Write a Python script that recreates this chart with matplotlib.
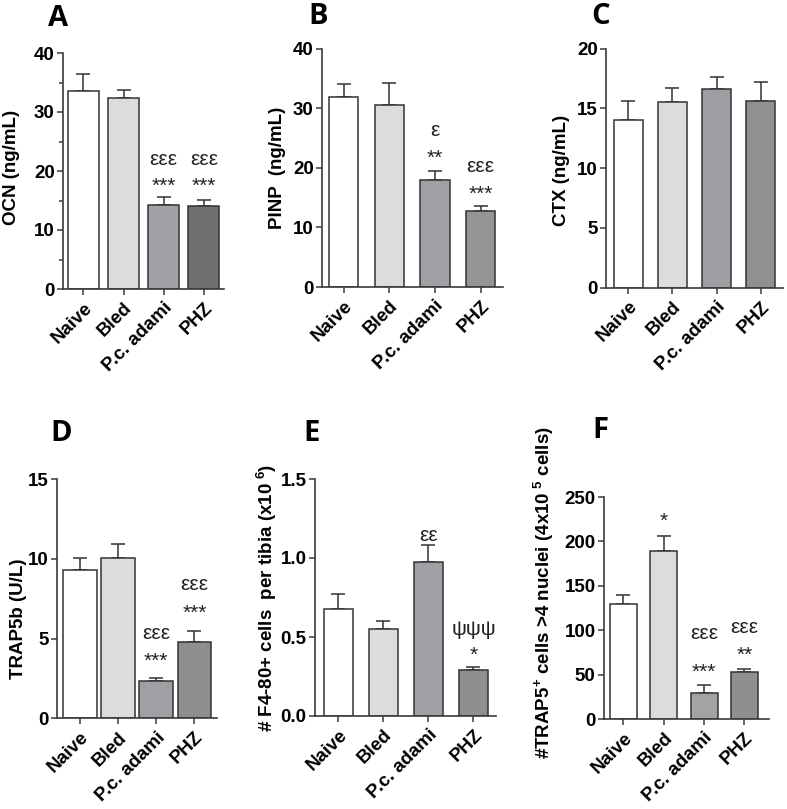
import matplotlib
matplotlib.use('Agg')
import matplotlib.pyplot as plt
import numpy as np

plt.rcParams['font.family'] = ['Liberation Sans', 'DejaVu Sans']
plt.rcParams['mathtext.fontset'] = 'custom'
plt.rcParams['mathtext.rm'] = 'Liberation Sans:bold'
plt.rcParams['mathtext.bf'] = 'Liberation Sans:bold'
plt.rcParams['mathtext.default'] = 'bf'

groups = ["Naive", "Bled", "P.c. adami", "PHZ"]

# Panel A – OCN
ocn_mean = [33.6, 32.4, 14.3, 14.0]
ocn_sem = [2.8, 1.4, 1.3, 1.1]
# Panel B – PINP
pinp_mean = [31.85, 30.5, 17.9, 12.7]
pinp_sem = [2.25, 3.8, 1.65, 0.9]
# Panel C – CTX
ctx_mean = [14.0, 15.55, 16.6, 15.65]
ctx_sem = [1.6, 1.2, 1.0, 1.55]
# Panel D – TRAP5b
trap_mean = [9.33, 10.08, 2.34, 4.79]
trap_sem = [0.71, 0.85, 0.19, 0.67]
# Panel E – F4/80+ cells
f480_mean = [0.676, 0.553, 0.976, 0.289]
f480_sem = [0.095, 0.047, 0.104, 0.024]
# Panel F – TRAP5+ multinucleated cells
trapc_mean = [130, 189, 29, 52.5]
trapc_sem = [9.4, 16.8, 8.9, 3.7]

# significance annotations: (group index, y, text)
ann_A = [(2, 22.0, "εεε"), (2, 18.6, "***"), (3, 22.0, "εεε"), (3, 18.6, "***")]
ann_B = [(2, 26.3, "ε"), (2, 22.7, "**"), (3, 20.2, "εεε"), (3, 16.8, "***")]
ann_C = []
ann_D = [(2, 5.3, "εεε"), (2, 4.0, "***"), (3, 8.4, "εεε"), (3, 7.0, "***")]
ann_E = [(2, 1.14, "εε"), (3, 0.545, "ψψψ"), (3, 0.43, "*")]
ann_F = [(1, 230, "*"), (2, 96.7, "εεε"), (2, 60, "***"), (3, 103, "εεε"), (3, 80, "**")]

W, H = 787, 809
fig = plt.figure(figsize=(W / 100, H / 100), dpi=100)

panels = [
    dict(letter="A", mean=ocn_mean, sem=ocn_sem, ann=ann_A, ylabel="OCN (ng/mL)",
         box=(63, 224, 53, 289), xlim=(-0.51, 3.5), width=0.77, ylim=(0, 40),
         yticks=[0, 10, 20, 30, 40], minor=[5, 15, 25, 35], fmt="{:g}",
         colors=['white', '#dcdcdc', '#a2a2a6', '#707070'],
         letter_xy=(58, 18), label_xy=(12, 167)),
    dict(letter="B", mean=pinp_mean, sem=pinp_sem, ann=ann_B, ylabel="PINP  (ng/mL)",
         box=(322, 503, 48.7, 287), xlim=(-0.48, 3.49), width=0.64, ylim=(0, 40),
         yticks=[0, 10, 20, 30, 40], minor=[], fmt="{:g}",
         colors=['white', '#dcdcdc', '#a0a0a4', '#959595'],
         letter_xy=(318, 16), label_xy=(278, 168)),
    dict(letter="C", mean=ctx_mean, sem=ctx_sem, ann=ann_C, ylabel="CTX (ng/mL)",
         box=(606, 783, 48.7, 287.5), xlim=(-0.51, 3.51), width=0.66, ylim=(0, 20),
         yticks=[0, 5, 10, 15, 20], minor=[], fmt="{:g}",
         colors=['white', '#dcdcdc', '#9e9ea2', '#909090'],
         letter_xy=(601, 16), label_xy=(562, 170)),
    dict(letter="D", mean=trap_mean, sem=trap_sem, ann=ann_D, ylabel="TRAP5b (U/L)",
         box=(57, 217, 479.3, 718.3), xlim=(-0.6, 3.59), width=0.88, ylim=(0, 15),
         yticks=[0, 5, 10, 15], minor=[], fmt="{:g}",
         colors=['white', '#dcdcdc', '#a0a0a4', '#8e8e8e'],
         letter_xy=(61, 433), label_xy=(19, 619)),
    dict(letter="E", mean=f480_mean, sem=f480_sem, ann=ann_E,
         ylabel="# F4-80+ cells  per tibia (x10$^{\\ 6}$)",
         box=(315, 496, 479, 716), xlim=(-0.52, 3.5), width=0.64, ylim=(0, 1.5),
         yticks=[0, 0.5, 1.0, 1.5], minor=[], fmt="{:.1f}",
         colors=['white', '#dcdcdc', '#a0a0a4', '#8f8f8f'],
         letter_xy=(312, 433), label_xy=(267, 598)),
    dict(letter="F", mean=trapc_mean, sem=trapc_sem, ann=ann_F,
         ylabel="#TRAP5$^{+}$ cells >4 nuclei (4x10$^{\\ 5}$ cells)",
         box=(604, 769, 497, 719), xlim=(-0.48, 3.61), width=0.67, ylim=(0, 250),
         yticks=[0, 50, 100, 150, 200, 250], minor=[], fmt="{:g}",
         colors=['white', '#dcdcdc', '#a3a3a3', '#8f8f8f'],
         letter_xy=(600, 430), label_xy=(544, 593)),
]

edge = '#333333'
for p in panels:
    l, r, t, b = p["box"]
    ax = fig.add_axes([l / W, 1 - b / H, (r - l) / W, (b - t) / H])
    x = np.arange(len(groups))
    ax.bar(x, p["mean"], width=p["width"], color=p["colors"], edgecolor=edge,
           linewidth=1.1, zorder=2)
    ax.errorbar(x, p["mean"], yerr=[np.zeros(len(groups)), p["sem"]], fmt='none',
                ecolor=edge, elinewidth=1.1, capsize=5, capthick=1.1, zorder=1)
    ax.set_xlim(*p["xlim"])
    ax.set_ylim(*p["ylim"])
    ax.set_yticks(p["yticks"])
    ax.set_yticklabels([p["fmt"].format(v) for v in p["yticks"]],
                       fontsize=13.5, fontweight='bold')
    if p["minor"]:
        ax.set_yticks(p["minor"], minor=True)
        ax.tick_params(axis='y', which='minor', length=3, width=1.1, color='#3a3a3a')
    ax.set_xticks(x)
    ax.set_xticklabels(groups, rotation=45, ha='right', va='top',
                       rotation_mode='anchor', fontsize=13.5, fontweight='bold')
    ax.tick_params(axis='both', which='major', length=4.5, width=1.1, color='#3a3a3a')
    ax.tick_params(axis='y', which='major', pad=1.5)
    ax.tick_params(axis='x', which='major', pad=3)
    for s in ['top', 'right']:
        ax.spines[s].set_visible(False)
    for s in ['left', 'bottom']:
        ax.spines[s].set_color('#3a3a3a')
        ax.spines[s].set_linewidth(1.2)
    ax.patch.set_alpha(0)
    for gi, yv, txt in p["ann"]:
        if '*' in txt:
            ax.annotate(txt, (gi, yv), xytext=(0, -5), textcoords='offset points',
                        ha='center', va='center', fontsize=15, color='#222222')
        else:
            ax.annotate(txt, (gi, yv), xytext=(0, 0), textcoords='offset points',
                        ha='center', va='center', fontsize=15, color='#222222')
    lx, ly = p["label_xy"]
    fig.text(lx / W, 1 - ly / H, p["ylabel"], rotation=90, ha='center', va='center',
             fontsize=13.5, fontweight='bold')
    tx, ty = p["letter_xy"]
    fig.text(tx / W, 1 - ty / H, p["letter"], ha='center', va='center',
             fontsize=21, fontweight='bold', family=['Open Sans', 'DejaVu Sans'])

fig.savefig("out.png", dpi=100)
